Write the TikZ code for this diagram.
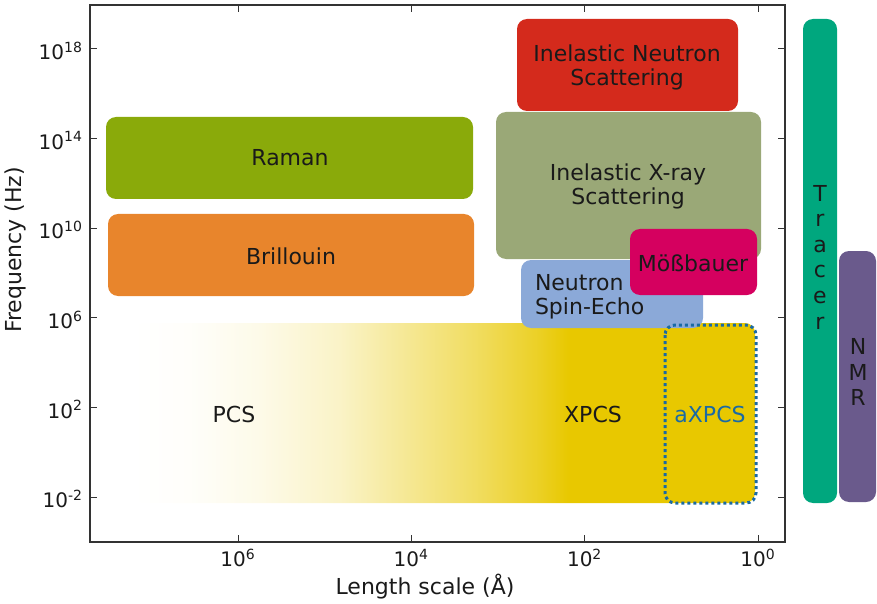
\documentclass[tikz,border=0pt]{standalone}
\usepackage{fontspec}
\setmainfont{DejaVu Sans}
\usepackage{tikz}
\usetikzlibrary{positioning}
\definecolor{ink}{HTML}{1A1A1A}
\definecolor{frame}{HTML}{333333}
\definecolor{ramanc}{HTML}{8AAA0A}
\definecolor{brillc}{HTML}{E8852C}
\definecolor{insc}{HTML}{D42A1C}
\definecolor{ixsc}{HTML}{9AA877}
\definecolor{mossc}{HTML}{D5005F}
\definecolor{nsec}{HTML}{8BA9D8}
\definecolor{xpcsc}{HTML}{E8C800}
\definecolor{axpcsc}{HTML}{1A6AA4}
\definecolor{tracerc}{HTML}{00A77E}
\definecolor{nmrc}{HTML}{6A5A8C}
\colorlet{fadeA}{xpcsc!2}
\colorlet{fadeB}{xpcsc!9}
\colorlet{fadeC}{xpcsc!22}
\colorlet{fadeD}{xpcsc!40}
\colorlet{fadeE}{xpcsc!62}
\colorlet{fadeF}{xpcsc!85}
\pgfdeclarehorizontalshading{pcsfade}{100bp}{color(0bp)=(white); color(25bp)=(white);
  color(29.6bp)=(fadeA); color(35.2bp)=(fadeB); color(41.6bp)=(fadeC); color(46.5bp)=(fadeD);
  color(52.5bp)=(fadeE); color(57.5bp)=(fadeF); color(60bp)=(xpcsc); color(100bp)=(xpcsc)}
\tikzstyle{base}=[x=0.5pt, y=-0.5pt, inner sep=0pt, outer sep=0pt]
\tikzstyle{lbl}=[text=ink, align=center, font=\fontsize{11}{12}\selectfont]
\tikzstyle{ticklbl}=[text=ink, font=\fontsize{10}{12}\selectfont]
\tikzstyle{bar}=[text=ink, align=center, font=\fontsize{11}{12.8}\selectfont]
\newcommand*{\dec}[1]{10\textsuperscript{#1}}

\begin{document}
\begin{tikzpicture}[base]
    \path [use as bounding box] (0,0) rectangle (877,604);
    % technique boxes
    \fill [ramanc, rounded corners=5pt] (106,117) rectangle (473,199);
    \node [lbl] (raman) at (290,158) {Raman};
    \fill [brillc, rounded corners=5pt] (108,214) rectangle (474,296);
    \node [lbl] (brill) at (291,256) {Brillouin};
    \fill [insc, rounded corners=5pt] (517,19) rectangle (738,111);
    \node [lbl] (ins) at (627,67) {Inelastic Neutron\\Scattering};
    \fill [ixsc, rounded corners=5pt] (496,112) rectangle (761,259);
    \node [lbl] (ixs) at (628,186) {Inelastic X-ray\\Scattering};
    % photon correlation
    \shade [shading=pcsfade, rounded corners=5pt] (133,323) rectangle (755,503);
    \node [lbl] (pcs) at (234,414) {PCS};
    \node [lbl] (xpcs) at (593,414) {XPCS};
    \fill [nsec, rounded corners=5pt] (521,260) rectangle (703,328);
    \node [lbl, align=left, anchor=west] (nse) at (535,297) {Neutron\\Spin-Echo};
    \fill [mossc, rounded corners=5pt] (630,229) rectangle (757,295);
    \node [lbl] (moss) at (693,263) {Mößbauer};
    \draw [axpcsc, line width=1.5pt, dash pattern=on 1.5pt off 1.5pt, rounded corners=5pt] (665,325) rectangle (756,503);
    \node [lbl, text=axpcsc] (axpcs) at (710,414) {aXPCS};
    % axes
    \draw [frame, line width=0.6pt] (90,5) rectangle (785,542);
    \foreach \e/\y in {18/49, 14/138.6, 10/228.2, 6/317.8, 2/407.4, -2/497} {
        \draw [frame, line width=0.5pt] (90,\y) -- (97,\y);
        \draw [frame, line width=0.5pt] (785,\y) -- (778,\y);
        \node [ticklbl, anchor=east] (ytick\e) at (83,\y+2) {\dec{\e}};
    }
    \foreach \e/\x in {6/238, 4/411.3, 2/584.7, 0/758} {
        \draw [frame, line width=0.5pt] (\x,542) -- (\x,535);
        \draw [frame, line width=0.5pt] (\x,5) -- (\x,12);
        \node [ticklbl, anchor=north] (xtick\e) at (\x,549) {\dec{\e}};
    }
    \node [lbl, rotate=90] (ylabel) at (15,250) {Frequency (Hz)};
    \node [lbl] (xlabel) at (425,587) {Length scale (Å)};
    % side bars
    \fill [tracerc, rounded corners=5pt] (803,19) rectangle (837,503);
    \node [bar] (tracer) at (820,257) {T\\r\\a\\c\\e\\r};
    \fill [nmrc, rounded corners=5pt] (839,251) rectangle (876,502);
    \node [bar] (nmr) at (858,372) {N\\M\\R};
\end{tikzpicture}
\end{document}
